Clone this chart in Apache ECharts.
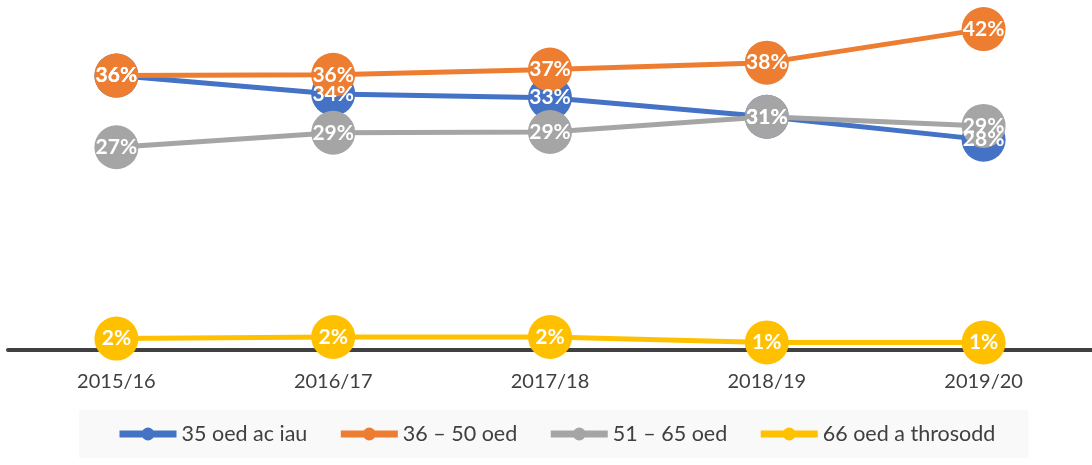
<!DOCTYPE html>
<html>
<head>
<meta charset="utf-8">
<script src="https://cdn.jsdelivr.net/npm/echarts@6/dist/echarts.min.js"></script>
<style>
html,body{margin:0;padding:0;background:#fff;}
#chart{width:1092px;height:465px;}
</style>
</head>
<body>
<div id="chart"></div>
<script>
var categories = ['2015/16', '2016/17', '2017/18', '2018/19', '2019/20'];
var seriesNames = ['35 oed ac iau', '36 – 50 oed', '51 – 65 oed', '66 oed a throsodd'];
var under35 = [36.0, 33.6, 33.1, 30.6, 27.6];
var age36to50 = [36.0, 36.1, 36.8, 37.7, 42.1];
var age51to65 = [26.6, 28.5, 28.6, 30.6, 29.4];
var age66plus = [1.5, 1.7, 1.7, 1.0, 1.0];
var colors = ['#4472C4', '#ED7D31', '#A5A5A5', '#FFC000'];

var FONT = 'Lato, "Open Sans", sans-serif';
var allData = [under35, age36to50, age51to65, age66plus];

var lineSeries = seriesNames.map(function (name, i) {
  return {
    name: name,
    type: 'line',
    data: allData[i],
    color: colors[i],
    symbol: 'circle',
    symbolSize: 44,
    lineStyle: { width: 5, color: colors[i] },
    itemStyle: { color: colors[i] },
    label: { show: false },
    z: 2 + i
  };
});
var labelSeries = seriesNames.map(function (name, i) {
  return {
    name: name + ' (label)',
    type: 'line',
    data: allData[i],
    symbol: 'circle',
    symbolSize: 44,
    lineStyle: { width: 0, color: 'transparent' },
    itemStyle: { color: 'transparent' },
    emphasis: { disabled: true },
    silent: true,
    label: {
      show: true,
      position: 'inside',
      color: '#ffffff',
      fontWeight: 'bold',
      fontSize: 21,
      fontFamily: FONT,
      formatter: function (p) { return Math.round(p.value) + '%'; }
    },
    z: 20 + i
  };
});

var chart = echarts.init(document.getElementById('chart'));
chart.setOption({
  animation: false,
  textStyle: { fontFamily: FONT },
  grid: { left: 8, top: 7, width: 1090, height: 343, containLabel: false },
  xAxis: {
    type: 'category',
    data: categories,
    boundaryGap: true,
    axisLine: { show: true, lineStyle: { color: '#404040', width: 4 } },
    axisTick: { show: false },
    axisLabel: { color: '#404040', fontSize: 20, fontFamily: FONT, margin: 22 },
    splitLine: { show: false }
  },
  yAxis: {
    type: 'value', min: 0, max: 45,
    show: false,
    splitLine: { show: false }
  },
  legend: {
    bottom: 7,
    left: 79,
    padding: [13, 33, 13, 37],
    backgroundColor: '#f9f9f9',
    itemWidth: 57,
    itemHeight: 16,
    itemGap: 30,
    textStyle: { color: '#404040', fontSize: 21.5, fontFamily: FONT },
    lineStyle: { width: 7 },
    data: seriesNames
  },
  series: lineSeries.concat(labelSeries)
});
</script>
</body>
</html>
